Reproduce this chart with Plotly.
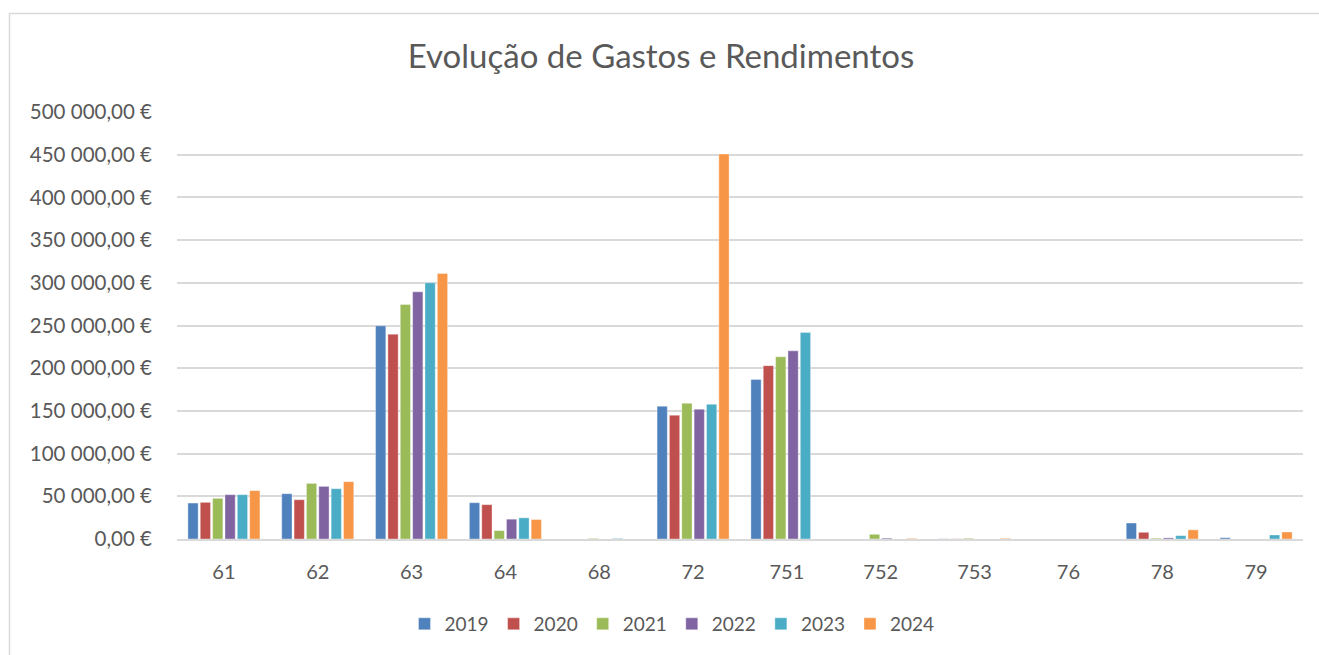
import plotly.graph_objects as go

categories = ["61", "62", "63", "64", "68", "72", "751", "752", "753", "76", "78", "79"]
years = ["2019", "2020", "2021", "2022", "2023", "2024"]
v2019 = [42100, 53000, 249600, 42500, 0, 155500, 186700, 0, 250, 0, 18700, 1500]
v2020 = [42900, 46000, 239900, 40200, 0, 145000, 203000, 0, 250, 0, 7800, 0]
v2021 = [47600, 65100, 274600, 9800, 700, 159000, 213300, 5500, 800, 0, 900, 0]
v2022 = [51900, 61600, 289400, 23200, 0, 152000, 220300, 1000, 0, 0, 1300, 0]
v2023 = [51900, 58900, 300000, 24800, 700, 157800, 241700, 0, 0, 0, 3900, 4700]
v2024 = [56600, 67100, 310800, 22800, 0, 450800, 0, 700, 800, 0, 10700, 8200]
series = [v2019, v2020, v2021, v2022, v2023, v2024]
colors = ["#4F81BD", "#C0504D", "#9BBB59", "#8064A2", "#4BACC6", "#F79646"]
tick_vals = [0, 50000, 100000, 150000, 200000, 250000, 300000, 350000, 400000, 450000, 500000]
tick_text = ["0,00 €", "50 000,00 €", "100 000,00 €", "150 000,00 €", "200 000,00 €",
             "250 000,00 €", "300 000,00 €", "350 000,00 €", "400 000,00 €",
             "450 000,00 €", "500 000,00 €"]
title_text = "Evolução de Gastos e Rendimentos"

FONT = "Lato, Carlito, Calibri, sans-serif"
TXT = "#595959"

fig = go.Figure()
for y, vals, c in zip(years, series, colors):
    fig.add_trace(go.Bar(x=categories, y=vals, name=y, marker_color=c,
                         marker_line_color="rgba(255,255,255,0.6)", marker_line_width=0.6))

W, H = 1319, 655
L, R, T, B = 177, 16, 112, 116
pw, ph = W - L - R, H - T - B

fig.update_layout(
    width=W, height=H,
    barmode="group", bargap=0.21, bargroupgap=0.17,
    paper_bgcolor="white", plot_bgcolor="white",
    margin=dict(l=L, r=R, t=T, b=B, autoexpand=False),
    font=dict(family=FONT, color=TXT, size=19),
    title=dict(text=title_text, x=661 / W, xref="container", xanchor="center",
               y=1 - 56 / H, yref="container", yanchor="middle",
               font=dict(family=FONT, size=33, color=TXT)),
    showlegend=True,
    legend=dict(orientation="h", x=(672 - L) / pw, xanchor="center", y=-(624 - 539) / ph,
                yanchor="middle", font=dict(family=FONT, size=19, color=TXT),
                itemwidth=30, traceorder="normal"),
    xaxis=dict(type="category", showgrid=False, showline=True, linecolor="#d9d9d9",
               linewidth=1.5, ticks="", tickfont=dict(family=FONT, size=20, color=TXT),
               ticklabelstandoff=14),
    yaxis=dict(range=[0, 500000], tickvals=tick_vals, ticktext=tick_text,
               showgrid=True, gridcolor="#d9d9d9", gridwidth=1.5, zeroline=False,
               showline=False, ticks="", tickfont=dict(family=FONT, size=20.5, color=TXT),
               ticklabelstandoff=24),
    shapes=[dict(type="rect", xref="paper", yref="paper",
                 x0=(9.5 - L) / pw, x1=(W + 5 - L) / pw,
                 y0=-(H + 5 - 539) / ph, y1=(539 - 13.5) / ph,
                 line=dict(color="#d9d9d9", width=1.5), fillcolor="rgba(0,0,0,0)",
                 layer="below")],
)

fig.write_html("out.html", config={"displayModeBar": False},
               post_script="document.body.style.margin='0';document.body.style.overflow='hidden';")
